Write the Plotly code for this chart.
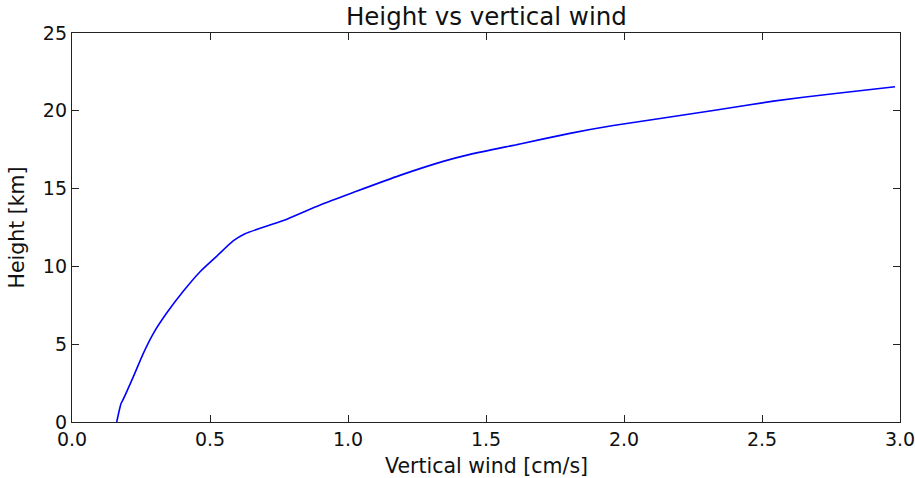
import plotly.graph_objects as go

wind = [0.162, 0.172, 0.178, 0.184, 0.222, 0.258, 0.295, 0.343, 0.403, 0.464, 0.524,
        0.585, 0.627, 0.766, 0.899, 1.019, 1.188, 1.345, 1.442, 1.623, 1.804,
        1.961, 2.167, 2.335, 2.541, 2.758, 2.982]
height = [0.0, 0.8, 1.2, 1.4, 2.9, 4.4, 5.7, 7.0, 8.4, 9.66, 10.65,
          11.65, 12.1, 12.95, 13.95, 14.75, 15.85, 16.75, 17.2, 17.87, 18.55,
          19.05, 19.6, 20.05, 20.62, 21.1, 21.55]

x_ticks = [0.0, 0.5, 1.0, 1.5, 2.0, 2.5, 3.0]
y_ticks = [0, 5, 10, 15, 20, 25]

FONT = "DejaVu Sans"

fig = go.Figure()
fig.add_trace(go.Scatter(x=wind, y=height, mode="lines",
                         line=dict(color="#0000ff", width=1.6, shape="spline", smoothing=0.6),
                         showlegend=False))

axis_common = dict(showgrid=False, zeroline=False, showline=True, linecolor="#222222",
                   linewidth=1.3, ticks="inside", ticklen=7, tickwidth=1, tickcolor="#222222",
                   mirror="allticks", ticklabeloverflow="allow", automargin=False,
                   tickfont=dict(family=FONT, size=19, color="#111111"))

fig.update_xaxes(range=[0, 3], tickvals=x_ticks, ticktext=[f"{v:.1f}" for v in x_ticks], **axis_common)
fig.update_yaxes(range=[0, 25], tickvals=y_ticks, ticktext=[str(v) for v in y_ticks], **axis_common)

fig.update_layout(
    width=915, height=478,
    margin=dict(l=72, r=15, t=33, b=56, autoexpand=False),
    paper_bgcolor="white", plot_bgcolor="white",
    title=dict(text="Height vs vertical wind", x=0.5315, xanchor="center",
               yref="container", y=1 - 16 / 478, yanchor="middle",
               font=dict(family=FONT, size=24.5, color="#111111")),
    annotations=[
        dict(text="Vertical wind [cm/s]", xref="paper", yref="paper", x=0.5, y=-0.076,
             xanchor="center", yanchor="top", showarrow=False,
             font=dict(family=FONT, size=20.5, color="#111111")),
        dict(text="Height [km]", xref="paper", yref="paper", x=-0.0676, y=0.5,
             xanchor="center", yanchor="middle", textangle=-90, showarrow=False,
             font=dict(family=FONT, size=20.5, color="#111111")),
    ],
)

fig.write_html("out.html")
